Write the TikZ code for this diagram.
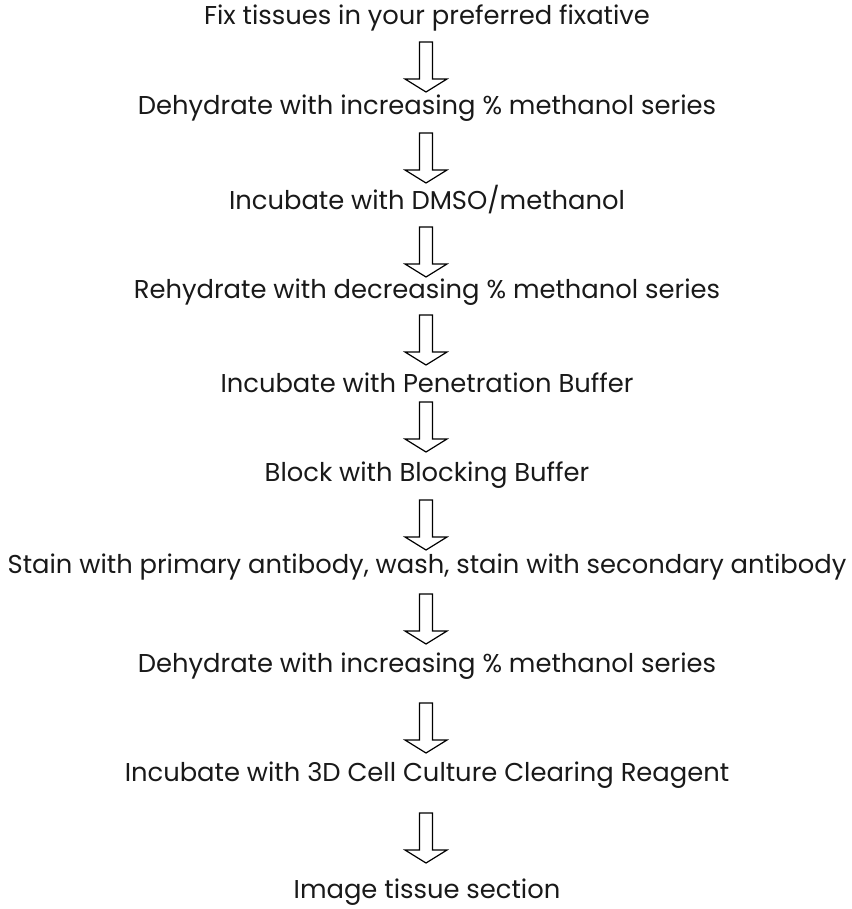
\documentclass[tikz,border=0pt]{standalone}
\usepackage{fontspec}
\setmainfont{Poppins}
\begin{document}
\begin{tikzpicture}[x=1pt,y=-1pt,
  lbl/.style={inner sep=0pt, anchor=center, font=\fontsize{25.8}{30}\selectfont, text=black!90},
  hollow/.style={draw=black, line width=1.2pt, fill=white, line join=miter}]
\useasboundingbox (0,0) rectangle (851,909);
\newcommand\hollowdown[1]{\draw[hollow] (#1) ++(-6.5,0) -- ++(13,0) -- ++(0,37) -- ++(14.5,0) -- ++(-21,13) -- ++(-21,-13) -- ++(14.5,0) -- cycle;}
\node[lbl] (t1) at (427,18) {Fix tissues in your preferred fixative};
\node[lbl] (t2) at (427,108) {Dehydrate with increasing \% methanol series};
\node[lbl] (t3) at (427,200) {Incubate with DMSO/methanol};
\node[lbl] (t4) at (427,292) {Rehydrate with decreasing \% methanol series};
\node[lbl] (t5) at (427,383) {Incubate with Penetration Buffer};
\node[lbl] (t6) at (427,475) {Block with Blocking Buffer};
\node[lbl] (t7) at (427,567) {Stain with primary antibody, wash, stain with secondary antibody};
\node[lbl] (t8) at (427,666) {Dehydrate with increasing \% methanol series};
\node[lbl] (t9) at (427,775) {Incubate with 3D Cell Culture Clearing Reagent};
\node[lbl] (t10) at (427,892) {Image tissue section};
\coordinate (a1) at (426,42);
\coordinate (a2) at (426,133);
\coordinate (a3) at (426,227);
\coordinate (a4) at (426,315);
\coordinate (a5) at (426,402);
\coordinate (a6) at (426,500);
\coordinate (a7) at (426,594);
\coordinate (a8) at (426,703);
\coordinate (a9) at (426,813);
\foreach \a in {a1,a2,a3,a4,a5,a6,a7,a8,a9}{\hollowdown{\a}}
\end{tikzpicture}
\end{document}
